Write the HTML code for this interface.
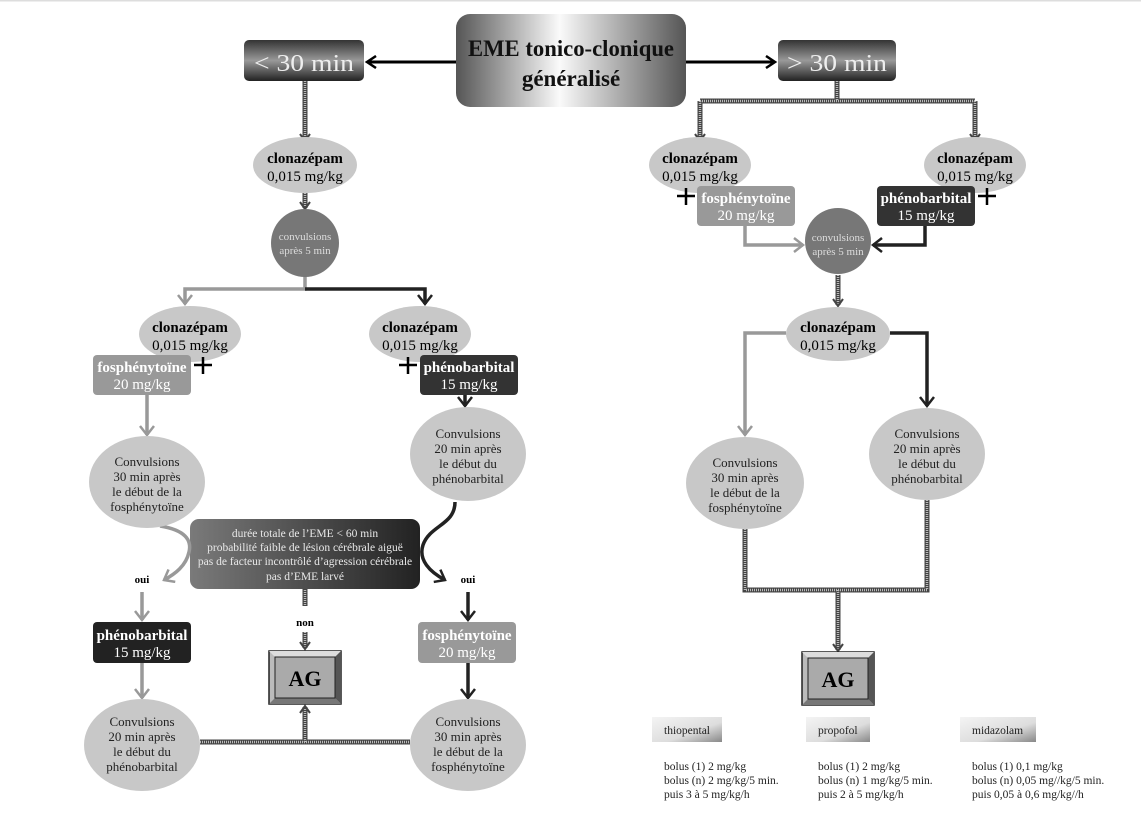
<!DOCTYPE html>
<html><head><meta charset="utf-8"><style>
html,body{margin:0;padding:0;background:#fff;}
svg{display:block;font-family:"Liberation Serif",serif;}
</style></head><body>
<svg width="1141" height="816" viewBox="0 0 1141 816" xmlns="http://www.w3.org/2000/svg">
<defs>
<linearGradient id="tg" x1="0" x2="1" y1="0" y2="0">
<stop offset="0" stop-color="#555"/><stop offset="0.45" stop-color="#fafafa"/><stop offset="1" stop-color="#555"/></linearGradient>
<linearGradient id="sg" x1="0" x2="0" y1="0" y2="1">
<stop offset="0" stop-color="#333"/><stop offset="0.5" stop-color="#999"/><stop offset="1" stop-color="#222"/></linearGradient>
<linearGradient id="dg" x1="0" x2="1" y1="0" y2="0">
<stop offset="0" stop-color="#7a7a7a"/><stop offset="1" stop-color="#222"/></linearGradient>
<linearGradient id="lg" x1="0" x2="1" y1="0" y2="1">
<stop offset="0" stop-color="#f4f4f4"/><stop offset="0.6" stop-color="#ddd"/><stop offset="1" stop-color="#888"/></linearGradient>
<marker id="al" markerWidth="14" markerHeight="16" refX="11" refY="8" orient="auto" markerUnits="userSpaceOnUse" viewBox="0 0 14 16"><path d="M2,1 L11,8 L2,15" fill="none" stroke="#999" stroke-width="2.5"/></marker>
<marker id="ad" markerWidth="14" markerHeight="16" refX="11" refY="8" orient="auto" markerUnits="userSpaceOnUse" viewBox="0 0 14 16"><path d="M2,1 L11,8 L2,15" fill="none" stroke="#222" stroke-width="2.5"/></marker>
<marker id="ab" markerWidth="14" markerHeight="14" refX="10" refY="7" orient="auto" markerUnits="userSpaceOnUse" viewBox="0 0 14 14"><path d="M2,1 L11,7 L2,13" fill="none" stroke="#000" stroke-width="2.5"/></marker>
</defs>
<rect x="0" y="0" width="1141" height="1.5" fill="#ddd"/>

<!-- Title -->
<line x1="456" y1="62" x2="368" y2="62" stroke="#000" stroke-width="3" marker-end="url(#ab)"/>
<line x1="686" y1="62" x2="774" y2="62" stroke="#000" stroke-width="3" marker-end="url(#ab)"/>
<rect x="456" y="14" width="230" height="93" rx="14" fill="url(#tg)"/>
<text x="571" y="56" text-anchor="middle" font-size="23" font-weight="bold" fill="#111" textLength="206" lengthAdjust="spacingAndGlyphs">EME tonico-clonique</text>
<text x="571" y="86" text-anchor="middle" font-size="23" font-weight="bold" fill="#111">généralisé</text>
<rect x="244" y="40" width="120" height="41" rx="5" fill="url(#sg)"/>
<text x="304" y="71" text-anchor="middle" font-size="24" fill="#eee" textLength="100" lengthAdjust="spacingAndGlyphs">&lt; 30 min</text>
<rect x="778" y="40" width="118" height="41" rx="5" fill="url(#sg)"/>
<text x="837" y="71" text-anchor="middle" font-size="24" fill="#eee" textLength="100" lengthAdjust="spacingAndGlyphs">&gt; 30 min</text>

<!-- hatched lines -->
<g fill="none" stroke-linejoin="miter">
<path d="M305,81 V140 M837,81 V101 M700,101 H975 M700,101 V140 M975,101 V140 M305,193 V208 M838,275 V305 M305,588 V606 M305,632 V648 M200,742 H410 M305,742 V707 M745,529 V590 H927 V500 M838,590 V650" stroke="#444" stroke-width="5"/>
<path d="M305,81 V140 M837,81 V101 M700,101 H975 M700,101 V140 M975,101 V140 M305,193 V208 M838,275 V305 M305,588 V606 M305,632 V648 M200,742 H410 M305,742 V707 M745,529 V590 H927 V500 M838,590 V650" stroke="#bbb" stroke-width="2.5" stroke-dasharray="1 1"/>
</g>
<g fill="none" stroke="#444" stroke-width="2">
<path d="M300,134 L305,141 L310,134"/><path d="M300,202 L305,209 L310,202"/>
<path d="M695,134 L700,141 L705,134"/><path d="M970,134 L975,141 L980,134"/>
<path d="M833,299 L838,306 L843,299"/><path d="M300,642 L305,649 L310,642"/>
<path d="M300,713 L305,706 L310,713"/><path d="M833,644 L838,651 L843,644"/>
</g>

<rect x="190" y="519" width="230" height="70" rx="9" fill="url(#dg)"/>

<!-- colored connectors -->
<g fill="none" stroke-width="3.5">
<path d="M305,276 V289 H185 V304" stroke="#999" marker-end="url(#al)"/>
<path d="M305,289 H425 V304" stroke="#222" marker-end="url(#ad)"/>
<path d="M147,395 V435" stroke="#999" marker-end="url(#al)"/>
<path d="M465,395 V406" stroke="#222" marker-end="url(#ad)"/>
<path d="M160,526 C185,530 192,540 189,552 C186,566 175,574 164,580" stroke="#999" marker-end="url(#al)"/>
<path d="M455,502 C455,525 430,525 423,545 C418,560 430,572 445,580" stroke="#222" marker-end="url(#ad)"/>
<path d="M142,592 V620" stroke="#999" marker-end="url(#al)"/>
<path d="M142,663 V698" stroke="#999" marker-end="url(#al)"/>
<path d="M468,592 V620" stroke="#222" marker-end="url(#ad)"/>
<path d="M468,663 V698" stroke="#222" marker-end="url(#ad)"/>
<path d="M745,226 V245 H803" stroke="#999" marker-end="url(#al)"/>
<path d="M925,226 V245 H873" stroke="#222" marker-end="url(#ad)"/>
<path d="M786,333 H745 V435" stroke="#999" marker-end="url(#al)"/>
<path d="M890,333 H927 V406" stroke="#222" marker-end="url(#ad)"/>
</g>

<!-- left tree nodes -->
<ellipse cx="305" cy="165" rx="52" ry="28" fill="#c8c8c8"/>
<text x="305" y="163" text-anchor="middle" font-size="15" font-weight="bold">clonazépam</text>
<text x="305" y="181" text-anchor="middle" font-size="15">0,015 mg/kg</text>
<circle cx="305" cy="243" r="34" fill="#777"/>
<text x="305" y="240" text-anchor="middle" font-size="11" fill="#ddd">convulsions</text>
<text x="305" y="254" text-anchor="middle" font-size="11" fill="#ddd">après 5 min</text>

<ellipse cx="190" cy="334" rx="51" ry="28" fill="#c8c8c8"/>
<text x="190" y="332" text-anchor="middle" font-size="15" font-weight="bold">clonazépam</text>
<text x="190" y="350" text-anchor="middle" font-size="15">0,015 mg/kg</text>
<ellipse cx="420" cy="334" rx="51" ry="28" fill="#c8c8c8"/>
<text x="420" y="332" text-anchor="middle" font-size="15" font-weight="bold">clonazépam</text>
<text x="420" y="350" text-anchor="middle" font-size="15">0,015 mg/kg</text>

<rect x="93" y="355" width="98" height="40" rx="4" fill="#999"/>
<text x="142" y="372" text-anchor="middle" font-size="15" font-weight="bold" fill="#fff">fosphénytoïne</text>
<text x="142" y="389" text-anchor="middle" font-size="15" fill="#fff">20 mg/kg</text>
<path d="M203,357 V374 M194,365 H212" stroke="#000" stroke-width="2.5"/>
<rect x="420" y="355" width="98" height="40" rx="4" fill="#333"/>
<text x="469" y="372" text-anchor="middle" font-size="15" font-weight="bold" fill="#fff">phénobarbital</text>
<text x="469" y="389" text-anchor="middle" font-size="15" fill="#fff">15 mg/kg</text>
<path d="M408,357 V374 M399,365 H417" stroke="#000" stroke-width="2.5"/>

<ellipse cx="147" cy="482" rx="58" ry="46" fill="#c8c8c8"/>
<g font-size="13" text-anchor="middle" fill="#222">
<text x="147" y="466">Convulsions</text><text x="147" y="481">30 min après</text><text x="147" y="496">le début de la</text><text x="147" y="511">fosphénytoïne</text>
</g>
<ellipse cx="468" cy="454" rx="58" ry="47" fill="#c8c8c8"/>
<g font-size="13" text-anchor="middle" fill="#222">
<text x="468" y="438">Convulsions</text><text x="468" y="453">20 min après</text><text x="468" y="468">le début du</text><text x="468" y="483">phénobarbital</text>
</g>

<g font-size="11.5" text-anchor="middle" fill="#e8e8e8">
<text x="305" y="537">durée totale de l’EME &lt; 60 min</text>
<text x="305" y="551">probabilité faible de lésion cérébrale aiguë</text>
<text x="305" y="565">pas de facteur incontrôlé d’agression cérébrale</text>
<text x="305" y="580">pas d’EME larvé</text>
</g>
<g font-size="11" font-weight="bold" text-anchor="middle">
<text x="142" y="583">oui</text><text x="468" y="583">oui</text><text x="305" y="626">non</text>
</g>

<rect x="93" y="622" width="98" height="41" rx="4" fill="#222"/>
<text x="142" y="640" text-anchor="middle" font-size="15" font-weight="bold" fill="#fff">phénobarbital</text>
<text x="142" y="657" text-anchor="middle" font-size="15" fill="#fff">15 mg/kg</text>
<rect x="418" y="622" width="98" height="41" rx="4" fill="#999"/>
<text x="467" y="640" text-anchor="middle" font-size="15" font-weight="bold" fill="#fff">fosphénytoïne</text>
<text x="467" y="657" text-anchor="middle" font-size="15" fill="#fff">20 mg/kg</text>

<ellipse cx="142" cy="745" rx="58" ry="46" fill="#c8c8c8"/>
<g font-size="13" text-anchor="middle" fill="#222">
<text x="142" y="726">Convulsions</text><text x="142" y="741">20 min après</text><text x="142" y="756">le début du</text><text x="142" y="771">phénobarbital</text>
</g>
<ellipse cx="468" cy="745" rx="58" ry="46" fill="#c8c8c8"/>
<g font-size="13" text-anchor="middle" fill="#222">
<text x="468" y="726">Convulsions</text><text x="468" y="741">30 min après</text><text x="468" y="756">le début de la</text><text x="468" y="771">fosphénytoïne</text>
</g>

<!-- AG boxes -->
<g>
<rect x="269" y="651" width="72" height="53" fill="#bbb" stroke="#222" stroke-width="1.5"/>
<path d="M269,651 L341,651 L335,657 L275,657 Z" fill="#ddd"/><path d="M341,651 L341,704 L335,698 L335,657Z" fill="#555"/><path d="M269,704 L341,704 L335,698 L275,698Z" fill="#777"/>
<rect x="275" y="657" width="60" height="41" fill="#aaa" stroke="#222"/>
<text x="305" y="686" text-anchor="middle" font-size="22" font-weight="bold">AG</text>
</g>
<g>
<rect x="802" y="652" width="72" height="53" fill="#bbb" stroke="#222" stroke-width="1.5"/>
<path d="M802,652 L874,652 L868,658 L808,658 Z" fill="#ddd"/><path d="M874,652 L874,705 L868,699 L868,658Z" fill="#555"/><path d="M802,705 L874,705 L868,699 L808,699Z" fill="#777"/>
<rect x="808" y="658" width="60" height="41" fill="#aaa" stroke="#222"/>
<text x="838" y="687" text-anchor="middle" font-size="22" font-weight="bold">AG</text>
</g>

<!-- right tree -->
<ellipse cx="700" cy="165" rx="51" ry="28" fill="#c8c8c8"/>
<text x="700" y="163" text-anchor="middle" font-size="15" font-weight="bold">clonazépam</text>
<text x="700" y="181" text-anchor="middle" font-size="15">0,015 mg/kg</text>
<ellipse cx="975" cy="165" rx="51" ry="28" fill="#c8c8c8"/>
<text x="975" y="163" text-anchor="middle" font-size="15" font-weight="bold">clonazépam</text>
<text x="975" y="181" text-anchor="middle" font-size="15">0,015 mg/kg</text>
<rect x="697" y="186" width="98" height="40" rx="4" fill="#999"/>
<text x="746" y="203" text-anchor="middle" font-size="15" font-weight="bold" fill="#fff">fosphénytoïne</text>
<text x="746" y="220" text-anchor="middle" font-size="15" fill="#fff">20 mg/kg</text>
<path d="M686,188 V205 M677,196 H695" stroke="#000" stroke-width="2.5"/>
<rect x="877" y="186" width="98" height="40" rx="4" fill="#333"/>
<text x="926" y="203" text-anchor="middle" font-size="15" font-weight="bold" fill="#fff">phénobarbital</text>
<text x="926" y="220" text-anchor="middle" font-size="15" fill="#fff">15 mg/kg</text>
<path d="M987,188 V205 M978,196 H996" stroke="#000" stroke-width="2.5"/>
<circle cx="838" cy="241" r="33" fill="#777"/>
<text x="838" y="241" text-anchor="middle" font-size="11" fill="#ddd">convulsions</text>
<text x="838" y="255" text-anchor="middle" font-size="11" fill="#ddd">après 5 min</text>
<ellipse cx="838" cy="334" rx="52" ry="27" fill="#c8c8c8"/>
<text x="838" y="332" text-anchor="middle" font-size="15" font-weight="bold">clonazépam</text>
<text x="838" y="350" text-anchor="middle" font-size="15">0,015 mg/kg</text>
<ellipse cx="745" cy="483" rx="59" ry="46" fill="#c8c8c8"/>
<g font-size="13" text-anchor="middle" fill="#222">
<text x="745" y="467">Convulsions</text><text x="745" y="482">30 min après</text><text x="745" y="497">le début de la</text><text x="745" y="512">fosphénytoïne</text>
</g>
<ellipse cx="927" cy="454" rx="58" ry="46" fill="#c8c8c8"/>
<g font-size="13" text-anchor="middle" fill="#222">
<text x="927" y="438">Convulsions</text><text x="927" y="453">20 min après</text><text x="927" y="468">le début du</text><text x="927" y="483">phénobarbital</text>
</g>

<!-- legend -->
<rect x="652" y="717" width="70" height="25" fill="url(#lg)"/>
<rect x="806" y="717" width="64" height="25" fill="url(#lg)"/>
<rect x="960" y="717" width="76" height="25" fill="url(#lg)"/>
<g font-size="11.5" fill="#222">
<text x="664" y="734">thiopental</text><text x="818" y="734">propofol</text><text x="972" y="734">midazolam</text>
<text x="664" y="770">bolus (1) 2 mg/kg</text><text x="664" y="784">bolus (n) 2 mg/kg/5 min.</text><text x="664" y="798">puis 3 à 5 mg/kg/h</text>
<text x="818" y="770">bolus (1) 2 mg/kg</text><text x="818" y="784">bolus (n) 1 mg/kg/5 min.</text><text x="818" y="798">puis 2 à 5 mg/kg/h</text>
<text x="972" y="770">bolus (1) 0,1 mg/kg</text><text x="972" y="784">bolus (n) 0,05 mg//kg/5 min.</text><text x="972" y="798">puis 0,05 à 0,6 mg/kg//h</text>
</g>
</svg>
</body></html>
